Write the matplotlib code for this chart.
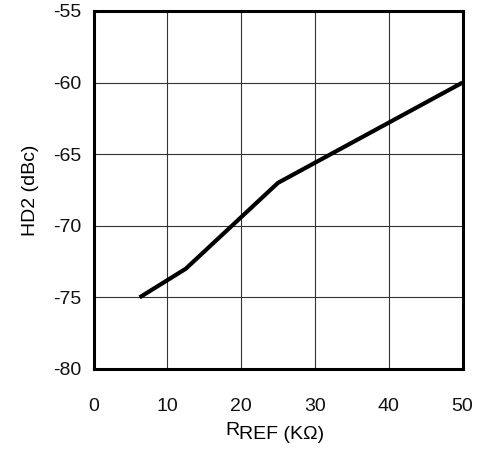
import matplotlib
matplotlib.use("Agg")
import matplotlib.pyplot as plt

plt.rcParams['font.family'] = ['Liberation Sans', 'DejaVu Sans']
plt.rcParams['axes.unicode_minus'] = False

r_ref = [6.25, 12.5, 25, 50]
hd2 = [-75, -73, -67, -60]
x_ticks = [0, 10, 20, 30, 40, 50]
y_ticks = [-80, -75, -70, -65, -60, -55]

fig = plt.figure(figsize=(4.88, 4.5), dpi=100)
ax = fig.add_axes([93.5/488, 1 - 369/450, (462.5-93.5)/488, (369-11)/450])

ax.plot(r_ref, hd2, color='black', lw=3.0, solid_capstyle='butt', zorder=3)
ax.set_xlim(0, 50)
ax.set_ylim(-80, -55)
ax.set_xticks(x_ticks)
ax.set_yticks(y_ticks)
ax.grid(True, color='#333333', lw=0.8)
ax.set_axisbelow(True)
for s in ax.spines.values():
    s.set_linewidth(2.2)
    s.set_color('black')
ax.tick_params(axis='both', length=0, labelsize=14, colors='#111111')
ax.tick_params(axis='x', pad=21)
ax.tick_params(axis='y', pad=9)

ax.set_ylabel('HD2 (dBc)', fontsize=14, labelpad=10)

# x-axis label: "R" with "REF" lowered, same size
ax.annotate('R', xy=(0.5, 0), xycoords='axes fraction', xytext=(-38, -38),
            textcoords='offset points', fontsize=14, ha='left', va='top')
ax.annotate('REF (K\u03a9)', xy=(0.5, 0), xycoords='axes fraction', xytext=(-28, -41),
            textcoords='offset points', fontsize=14, ha='left', va='top')

fig.savefig('out.png', dpi=100)
